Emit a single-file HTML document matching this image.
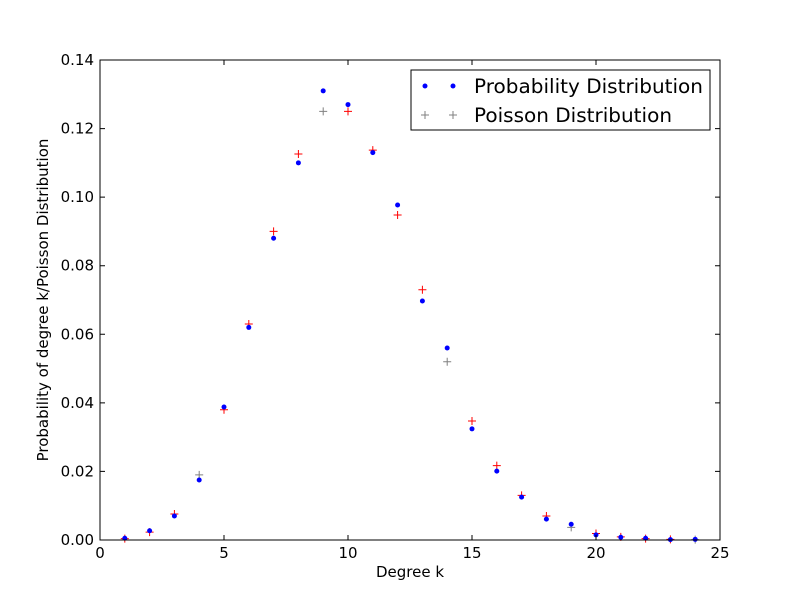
<!DOCTYPE html>
<html><head><meta charset="utf-8"><style>
body{margin:0;background:#fff;}
svg text{font-family:"DejaVu Sans","Liberation Sans",sans-serif;}
</style></head><body>
<svg id="chart" width="800" height="600" xmlns="http://www.w3.org/2000/svg">
<rect width="800" height="600" fill="#fff"/>
<g id="marks"></g>
<rect x="100" y="60" width="620" height="480" fill="none" stroke="#000" stroke-width="1"/>
<g id="axes"></g>
<text x="410" y="577" font-size="15" text-anchor="middle">Degree k</text>
<text transform="translate(48,300) rotate(-90)" font-size="15" text-anchor="middle">Probability of degree k/Poisson Distribution</text>
<g>
<rect x="411" y="70" width="299" height="60" fill="#fff" stroke="#000"/>
<g>
<circle cx="425" cy="86" r="2.5" fill="#0000ff"/><circle cx="453" cy="86" r="2.5" fill="#0000ff"/>
<text x="474" y="93" font-size="19.5" textLength="229" lengthAdjust="spacingAndGlyphs">Probability Distribution</text></g>
<g>
<path d="M421 115h8M425 111v8M449 115h8M453 111v8" stroke="#808080" stroke-width="1"/>
<text x="474" y="122" font-size="19.5" textLength="198" lengthAdjust="spacingAndGlyphs">Poisson Distribution</text></g>
</g>
</svg>
<script>
const degrees=[1,2,3,4,5,6,7,8,9,10,11,12,13,14,15,16,17,18,19,20,21,22,23,24];
const probValues=[0.0005,0.0027,0.007,0.0175,0.0388,0.062,0.088,0.110,0.131,0.127,0.113,0.0977,0.0697,0.056,0.0324,0.0201,0.0125,0.0061,0.0046,0.0015,0.0008,0.0005,0.0001,0.0002];
const poissonValues=[0.0004,0.0023,0.0076,0.019,0.038,0.063,0.090,0.1126,0.125,0.125,0.1137,0.0948,0.073,0.052,0.0347,0.0217,0.013,0.007,0.0037,0.0019,0.0009,0.0004,0.0002,0.0001];
const xTicks=[0,5,10,15,20,25];
const yTicks=[0,0.02,0.04,0.06,0.08,0.10,0.12,0.14];
const yTickLabels=["0.00","0.02","0.04","0.06","0.08","0.10","0.12","0.14"];
const NS="http://www.w3.org/2000/svg";
function xs(v){return 100+v/25*620;}
function ys(v){return 540-v/0.14*480;}
const marks=document.getElementById('marks'),axes=document.getElementById('axes');
function mk(tag,attrs,parent){const e=document.createElementNS(NS,tag);for(const k in attrs)e.setAttribute(k,attrs[k]);parent.appendChild(e);return e;}
xTicks.forEach(t=>{const x=xs(t);
 const g=mk('g',{},axes);
 
 
 mk('path',{d:`M${x} 540v-5M${x} 60v5`,stroke:'#000'},g);
 const tx=mk('text',{x:x,y:558,'font-size':15,'text-anchor':'middle'},g);tx.textContent=t;});
yTicks.forEach((t,i)=>{const y=ys(t);
 const g=mk('g',{},axes);
 
 
 mk('path',{d:`M100 ${y}h5M720 ${y}h-5`,stroke:'#000'},g);
 const tx=mk('text',{x:94,y:y+5,'font-size':15,'text-anchor':'end'},g);tx.textContent=yTickLabels[i];});
degrees.forEach((k,i)=>{
 const x=xs(k),y=ys(poissonValues[i]);
 const col=(k%5===4)?'#808080':'#ff0000';
 const p=mk('path',{d:`M${x-4} ${y}h8M${x} ${y-4}v8`,stroke:col,'stroke-width':1},marks);
 
 
 const c=mk('circle',{cx:x,cy:ys(probValues[i]),r:2.5,fill:'#0000ff'},marks);
 
 
});
</script>
</body></html>
